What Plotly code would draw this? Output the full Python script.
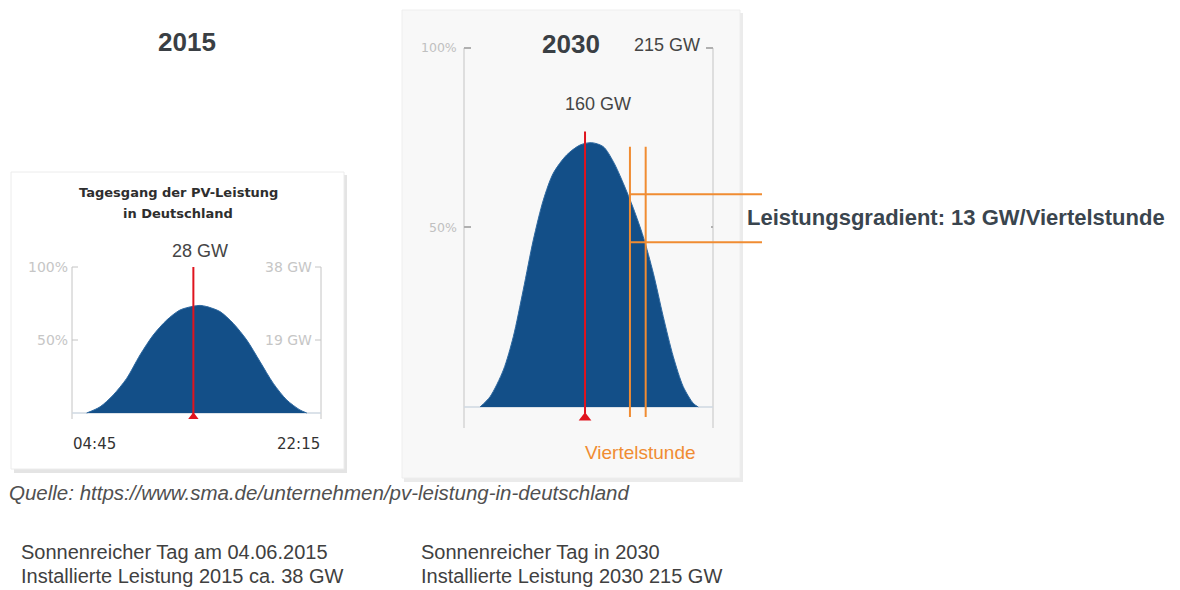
import plotly.graph_objects as go

# page has an 8px body margin -> figure occupies window pixels 8..1180 x 8..590
OFF = 8
W, H = 1180 - OFF, 590 - OFF

# ---------------- data ----------------
# 2015: hours of day vs PV power (GW)
hours_2015 = [5.78, 6.72, 7.65, 8.59, 9.53, 10.46, 11.41, 12.34, 13.28, 13.75, 14.22, 15.15, 16.09, 17.03, 17.96, 18.90, 19.84, 20.77, 21.25]
gw_2015 = [0, 1.6, 4.7, 9.0, 15.1, 20.3, 24.2, 26.8, 27.8, 28.0, 27.7, 26.4, 23.3, 19.0, 13.4, 7.7, 3.4, 0.8, 0]
# 2030
hours_2030 = [5.88, 6.59, 7.53, 8.23, 8.93, 9.64, 10.35, 11.05, 11.99, 12.94, 13.76, 14.58, 15.29, 15.99, 16.70, 17.40, 18.11, 18.81, 19.52, 20.22, 20.93, 21.28]
gw_2030 = [0, 6.2, 22.2, 42.1, 70.1, 100.0, 124.0, 140.0, 150.9, 156.9, 158.3, 155.9, 146.9, 134.0, 119.0, 102.0, 80.1, 54.1, 30.1, 12.2, 2.2, 0]

installed_2015 = 38
installed_2030 = 215
peak_label_2015 = 28
peak_label_2030 = 160
peak_time_2015 = 13.28
peak_time_2030 = 13.29
red_top_2030 = 165
quarter_x = [16.46, 17.57]
quarter_top = 155.9
quarter_bottom = -6.0
gradient_levels = [127.4, 98.6]
x_start_label, x_end_label = "04:45", "22:15"
x_min, x_max = 4.75, 22.25

# ---------------- helpers ----------------
def fx(px):
    return (px - OFF) / W

def fy(py):
    return 1 - (py - OFF) / H

BLUE = "#134f88"
RED = "#e0141e"
ORANGE = "#f08c32"
AXGRAY = "#c4c4c4"
FONT = "Liberation Sans"

fig = go.Figure()

# 2015 area
fig.add_trace(go.Scatter(x=hours_2015, y=gw_2015, mode="lines", fill="tozeroy",
                         line=dict(color="#2d68a0", width=1, shape="spline", smoothing=0.8),
                         fillcolor=BLUE, xaxis="x", yaxis="y", hoverinfo="skip"))
fig.add_trace(go.Scatter(x=[peak_time_2015, peak_time_2015], y=[-0.5, installed_2015], mode="lines",
                         line=dict(color=RED, width=2), xaxis="x", yaxis="y", hoverinfo="skip"))
fig.add_trace(go.Scatter(x=[peak_time_2015], y=[-1.0], mode="markers",
                         marker=dict(symbol="triangle-up", size=9, color=RED),
                         xaxis="x", yaxis="y", cliponaxis=False, hoverinfo="skip"))

# 2030 area
fig.add_trace(go.Scatter(x=hours_2030, y=gw_2030, mode="lines", fill="tozeroy",
                         line=dict(color="#2d68a0", width=1, shape="spline", smoothing=0.8),
                         fillcolor=BLUE, xaxis="x2", yaxis="y2", hoverinfo="skip"))
fig.add_trace(go.Scatter(x=[peak_time_2030, peak_time_2030], y=[-4, red_top_2030], mode="lines",
                         line=dict(color=RED, width=2), xaxis="x2", yaxis="y2", hoverinfo="skip"))
fig.add_trace(go.Scatter(x=[peak_time_2030], y=[-6.5], mode="markers",
                         marker=dict(symbol="triangle-up", size=11, color=RED),
                         xaxis="x2", yaxis="y2", cliponaxis=False, hoverinfo="skip"))
for qx in quarter_x:
    fig.add_trace(go.Scatter(x=[qx, qx], y=[quarter_bottom, quarter_top], mode="lines",
                             line=dict(color=ORANGE, width=2), xaxis="x2", yaxis="y2", hoverinfo="skip"))
x2_max = x_min + (762 - 464) / 248 * (x_max - x_min)
for lv in gradient_levels:
    fig.add_trace(go.Scatter(x=[quarter_x[0], x2_max], y=[lv, lv], mode="lines",
                             line=dict(color=ORANGE, width=2), xaxis="x2", yaxis="y2", hoverinfo="skip"))

# ---------------- shapes ----------------
shapes = []
def rect(x0, y0, x1, y1, fill, line, lw=1):
    shapes.append(dict(type="rect", xref="paper", yref="paper", x0=fx(x0), x1=fx(x1), y0=fy(y1), y1=fy(y0),
                       fillcolor=fill, line=dict(color=line, width=lw), layer="below"))
def line(x0, y0, x1, y1, color=AXGRAY, w=1):
    shapes.append(dict(type="line", xref="paper", yref="paper", x0=fx(x0), x1=fx(x1), y0=fy(y0), y1=fy(y1),
                       line=dict(color=color, width=w), layer="below"))

# cards (shadow + card)
rect(14, 175, 347, 473, "#e4e4e4", "rgba(0,0,0,0)", 0)
rect(11, 172, 344, 469, "#ffffff", "#ececec")
rect(404, 13, 743, 482, "#ebebeb", "rgba(0,0,0,0)", 0)
rect(402, 10, 740, 478, "#f8f8f8", "#eeeeee")

# left chart axes
line(72, 267, 72, 419)
line(321, 267, 321, 419)
line(72, 413, 321, 413, "#cfd9e2", 1.5)
for yy in (267, 340):
    line(72, yy, 78, yy)
    line(315, yy, 321, yy)

# right chart axes
line(464, 48, 464, 428)
line(713, 48, 713, 428)
line(464, 407, 713, 407, "#cfd9e2", 1.5)
line(464, 48, 471, 48, "#b0b0b0", 2)
line(464, 227, 471, 227, "#b0b0b0", 2)
line(706, 48, 713, 48, "#b0b0b0", 2)
line(711, 227, 713, 227, "#b0b0b0", 2)

# ---------------- annotations ----------------
ann = []
def text(t, px, py, size, color="#404040", anchor="center", family=FONT, xref="paper", yref="paper", xv=None, yv=None):
    ann.append(dict(text=t, x=fx(px) if xv is None else xv, y=fy(py) if yv is None else yv,
                    xref=xref, yref=yref, showarrow=False, xanchor=anchor, yanchor="middle",
                    font=dict(size=size, color=color, family=family)))

text("<b>2015</b>", 187, 42, 26, "#3a3f44")
text("<b>2030</b>", 571, 44, 26, "#3a3f44")
text(f"{installed_2030} GW", 702, 45, 18, "#454545", anchor="right")
text(f"{peak_label_2030} GW", 598, 104, 18, "#454545")
text(f"{peak_label_2015} GW", 200, 251, 18, "#454545")
text("<b>Tagesgang der PV-Leistung</b>", 178, 192, 13, "#2e2e2e", family="DejaVu Sans")
text("<b>in Deutschland</b>", 178, 213, 13, "#2e2e2e", family="DejaVu Sans")
text("100%", 70, 0, 14, "#c6c6c6", anchor="right", family="DejaVu Sans", yref="y", yv=installed_2015)
text("50%", 70, 0, 14, "#c6c6c6", anchor="right", family="DejaVu Sans", yref="y", yv=installed_2015 / 2)
text(f"{installed_2015} GW", 314, 0, 14, "#c6c6c6", anchor="right", family="DejaVu Sans", yref="y", yv=installed_2015)
text(f"{installed_2015 // 2} GW", 314, 0, 14, "#c6c6c6", anchor="right", family="DejaVu Sans", yref="y", yv=installed_2015 / 2)
text(x_start_label, 71, 444, 15, "#333333", anchor="left", family="DejaVu Sans")
text(x_end_label, 322, 444, 15, "#333333", anchor="right", family="DejaVu Sans")
text("100%", 459, 0, 12.5, "#c0c0c0", anchor="right", family="DejaVu Sans", yref="y2", yv=installed_2030)
text("50%", 459, 0, 12.5, "#c0c0c0", anchor="right", family="DejaVu Sans", yref="y2", yv=installed_2030 / 2)
text("Viertelstunde", 640, 452, 19, ORANGE)
text("<b>Leistungsgradient: 13 GW/Viertelstunde</b>", 745, 217, 22, "#3a454e", anchor="left")
text("<i>Quelle: https://www.sma.de/unternehmen/pv-leistung-in-deutschland</i>", 7, 492, 20.5, "#505050", anchor="left")
text("Sonnenreicher Tag am 04.06.2015", 19, 552, 20, "#404040", anchor="left")
text(f"Installierte Leistung 2015 ca. {installed_2015} GW", 19, 576, 20, "#404040", anchor="left")
text("Sonnenreicher Tag in 2030", 419, 552, 20, "#404040", anchor="left")
text(f"Installierte Leistung 2030 {installed_2030} GW", 419, 576, 20, "#404040", anchor="left")

# ---------------- axes ----------------
y1_lo = -(425 - 413) / 146 * installed_2015
y2_lo = -(430 - 407) / 359 * installed_2030
axis_common = dict(visible=False, showgrid=False, zeroline=False, fixedrange=True)
fig.update_layout(
    width=W, height=H,
    margin=dict(l=0, r=0, t=0, b=0),
    paper_bgcolor="white", plot_bgcolor="rgba(0,0,0,0)",
    showlegend=False,
    xaxis=dict(domain=[fx(72), fx(321)], range=[x_min, x_max], anchor="y", **axis_common),
    yaxis=dict(domain=[fy(425), fy(267)], range=[y1_lo, installed_2015], anchor="x", **axis_common),
    xaxis2=dict(domain=[fx(464), fx(762)], range=[x_min, x2_max], anchor="y2", **axis_common),
    yaxis2=dict(domain=[fy(430), fy(48)], range=[y2_lo, installed_2030], anchor="x2", **axis_common),
    shapes=shapes,
    annotations=ann,
)

fig.write_html("out.html")
